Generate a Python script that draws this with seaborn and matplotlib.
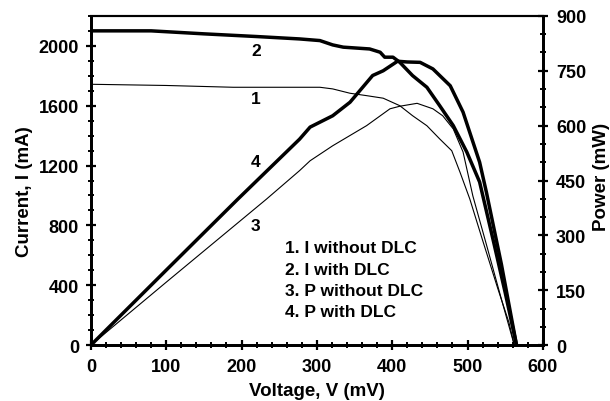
import matplotlib
matplotlib.use("Agg")
import matplotlib.pyplot as plt
import seaborn as sns
from matplotlib.ticker import MultipleLocator

# curve 1: I without DLC
v_i_plain = [0, 100, 189, 304, 321, 344, 366, 388, 410, 427, 446, 463, 479, 490, 503, 520, 540, 555, 562]
i_plain = [1743, 1735, 1723, 1723, 1712, 1683, 1667, 1650, 1600, 1533, 1466, 1378, 1299, 1155, 976, 700, 380, 150, 0]

# curve 2: I with DLC
v_i_dlc = [0, 80, 150, 220, 277, 304, 321, 335, 370, 384, 390, 401, 410, 427, 446, 463, 481, 499, 516, 535, 550, 565]
i_dlc = [2100, 2100, 2080, 2062, 2046, 2035, 2006, 1991, 1979, 1957, 1924, 1924, 1890, 1801, 1723, 1600, 1467, 1290, 1090, 680, 350, 0]

# curve 3: P without DLC
v_p_plain = [0, 100, 233, 277, 291, 321, 366, 397, 410, 433, 454, 467, 481, 494, 507, 525, 545, 562]
p_plain = [0, 172, 399, 477, 504, 545, 600, 646, 653, 661, 646, 627, 591, 528, 408, 275, 125, 0]

# curve 4: P with DLC
v_p_dlc = [0, 100, 195, 277, 291, 321, 344, 374, 388, 407, 420, 437, 454, 477, 494, 516, 525, 545, 565]
p_dlc = [0, 205, 399, 563, 596, 627, 664, 737, 750, 776, 774, 773, 755, 709, 637, 500, 418, 220, 0]

legend_lines = ["1. I without DLC", "2. I with DLC", "3. P without DLC", "4. P with DLC"]

sns.set_style("ticks")
plt.rcParams["font.family"] = ["Liberation Sans", "DejaVu Sans"]
plt.rcParams["font.weight"] = "bold"
plt.rcParams["font.size"] = 12
for key in ["text.color", "axes.labelcolor", "xtick.color", "ytick.color", "axes.edgecolor"]:
    plt.rcParams[key] = "black"

fig = plt.figure(figsize=(6.1, 4.02), dpi=100)
ax = fig.add_axes([0.149, 0.139, 0.741, 0.819])
ax2 = ax.twinx()

thin, thick = 0.8, 2.5
sns.lineplot(x=v_i_plain, y=i_plain, ax=ax, color="black", lw=thin, sort=False, estimator=None)
sns.lineplot(x=v_i_dlc, y=i_dlc, ax=ax, color="black", lw=thick, sort=False, estimator=None)
sns.lineplot(x=v_p_plain, y=p_plain, ax=ax2, color="black", lw=thin, sort=False, estimator=None)
sns.lineplot(x=v_p_dlc, y=p_dlc, ax=ax2, color="black", lw=thick, sort=False, estimator=None)

ax.set_xlim(0, 600)
ax.set_ylim(0, 2200)
ax2.set_ylim(0, 900)
ax.xaxis.set_major_locator(MultipleLocator(100))
ax.xaxis.set_minor_locator(MultipleLocator(20))
ax.yaxis.set_major_locator(MultipleLocator(400))
ax.yaxis.set_minor_locator(MultipleLocator(100))
ax2.yaxis.set_major_locator(MultipleLocator(150))
ax2.yaxis.set_minor_locator(MultipleLocator(50))

for a in (ax, ax2):
    for s in a.spines.values():
        s.set_linewidth(2)
    a.spines["top"].set_linewidth(1.5)
    a.tick_params(which="major", direction="inout", length=7, width=1.6, labelsize=13)
    a.tick_params(which="minor", direction="inout", length=5, width=1.4)
ax.tick_params(axis="x", which="major", pad=6)
ax.tick_params(axis="y", which="major", pad=5)
ax2.tick_params(axis="y", which="major", pad=6)

ax.set_xlabel("Voltage, V (mV)", fontsize=13.5, fontweight="bold")
ax.set_ylabel("Current, I (mA)", fontsize=13.5, fontweight="bold")
ax2.set_ylabel("Power (mW)", fontsize=13.5, fontweight="bold")
ax.xaxis.set_label_coords(0.5, -0.112)
ax.yaxis.set_label_coords(-0.128, 0.47)
ax2.yaxis.set_label_coords(1.11, 0.515)

# curve number labels
for num, y in zip(["2", "1", "4", "3"], [1966, 1645, 1224, 796]):
    ax.text(219, y, num, ha="center", va="center", fontsize=12.5, fontweight="bold")

for k, line in enumerate(legend_lines):
    ax.text(258, 649 - k * 142, line, ha="left", va="center", fontsize=12.5, fontweight="bold")

fig.savefig("out.png", dpi=100)
